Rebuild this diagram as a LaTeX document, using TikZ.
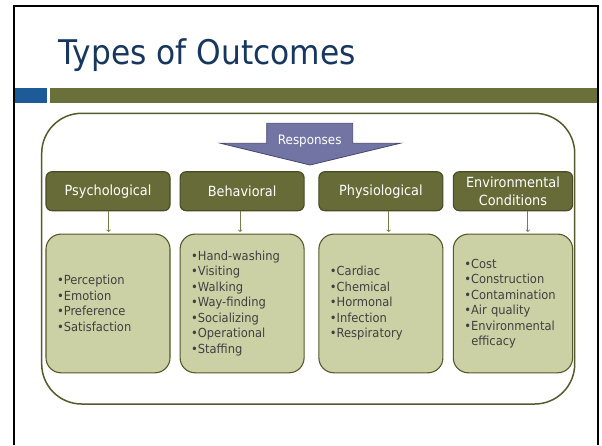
\documentclass[tikz,border=0pt]{standalone}
\usepackage{fontspec}
\setmainfont[FakeStretch=0.92]{DejaVu Sans}
\usetikzlibrary{positioning}

\definecolor{titleblue}{RGB}{23,55,94}
\definecolor{barblue}{RGB}{28,90,152}
\definecolor{bargreen}{RGB}{107,112,59}
\definecolor{catfill}{RGB}{103,107,55}
\definecolor{catborder}{RGB}{72,76,36}
\definecolor{listfill}{RGB}{204,209,165}
\definecolor{listtext}{RGB}{64,64,64}
\definecolor{olivedark}{RGB}{85,90,45}
\definecolor{linkolive}{RGB}{120,124,75}
\definecolor{arrowfill}{RGB}{114,116,164}
\definecolor{arrowborder}{RGB}{70,72,112}

\tikzset{
	category/.style={draw=catborder, line width=1.1pt, fill=catfill, text=white, rounded corners=6pt, minimum width=124pt, minimum height=39pt, inner sep=0pt, align=center, font=\fontsize{14}{18}\selectfont},
	itemlist/.style={draw=olivedark, line width=1.1pt, fill=listfill, text=listtext, rounded corners=15pt, minimum height=138.7pt, text width=102pt, inner xsep=11pt, inner ysep=0pt, align=left, font=\fontsize{12.5}{15.5}\selectfont},
	link/.style={linkolive, line width=0.8pt, ->, shorten >=1.5pt},
}

\begin{document}
\begin{tikzpicture}[x=1pt, y=-1pt]
	\useasboundingbox (0, 0) rectangle (602, 445);
	\fill[white] (0, 0) rectangle (602, 445);
	\draw[black, line width=2pt] (13.7, 445)--(13.7, 6.3)--(597.5, 6.3)--(597.5, 445);
	\node[anchor=base west, text=titleblue, inner sep=0pt, font=\fontsize{34}{40}\selectfont] (title) at (58.5, 64.5) {Types of Outcomes};
	\fill[barblue] (14.7, 88) rectangle (46.7, 102.7);
	\fill[bargreen] (50, 88) rectangle (596.5, 102.7);
	\draw[olivedark, line width=1.5pt, rounded corners=40pt] (41.7, 113.3) rectangle (574.7, 404);
	\draw[arrowborder, fill=arrowfill, line width=0.8pt] (266.7, 123.3)--(352.7, 123.3)--(352.7, 143.3)--(400, 143.3)--(310, 165)--(220.7, 143.3)--(266.7, 143.3)--cycle;
	\node[text=white, anchor=base, inner sep=0pt, font=\fontsize{13}{15}\selectfont] (responses) at (309.7, 144.5) {Responses};
	\node[category] (psych) at (108, 191.2) {Psychological};
	\node[category, right=9pt of psych] (behav) {Behavioral};
	\node[category, right=13.7pt of behav] (physio) {Physiological};
	\node[category, right=9.3pt of physio, minimum width=119.3pt] (environ) {Environmental\\Conditions};
	\node[itemlist, below=22.3pt of psych] (psychlist) {•Perception\\•Emotion\\•Preference\\•Satisfaction};
	\node[itemlist, below=22.3pt of behav] (behavlist) {•Hand-washing\\•Visiting\\•Walking\\•Way-finding\\•Socializing\\•Operational\\•Staffing};
	\node[itemlist, below=22.3pt of physio] (physiolist) {•Cardiac\\•Chemical\\•Hormonal\\•Infection\\•Respiratory};
	\node[itemlist, below=22.3pt of environ, text width=97.3pt] (environlist) {•Cost\\•Construction\\•Contamination\\•Air quality\\•Environmental\\\hspace*{7pt}efficacy};
	\draw[link] ([xshift=0.6pt]psych.south)--([xshift=0.6pt]psychlist.north);
	\draw[link] ([xshift=-2pt]behav.south)--([xshift=-2pt]behavlist.north);
	\draw[link] ([xshift=7.8pt]physio.south)--([xshift=7.8pt]physiolist.north);
	\draw[link] ([xshift=14.9pt]environ.south)--([xshift=14.9pt]environlist.north);
\end{tikzpicture}
\end{document}
